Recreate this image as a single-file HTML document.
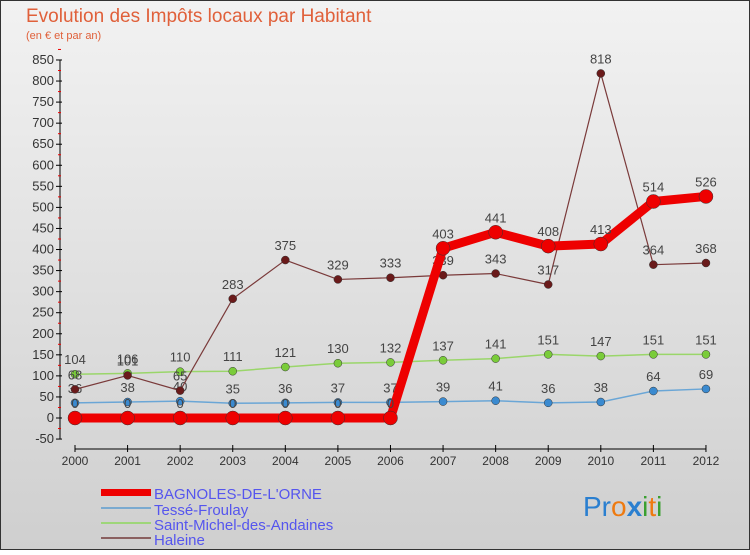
<!DOCTYPE html>
<html><head><meta charset="utf-8"><style>
body{margin:0;width:750px;height:550px;overflow:hidden;font-family:"Liberation Sans","DejaVu Sans",sans-serif}
</style></head><body>
<svg width="750" height="550" xmlns="http://www.w3.org/2000/svg">
<defs><linearGradient id="bg" x1="0" y1="0" x2="0" y2="1"><stop offset="0" stop-color="#f2f2f2"/><stop offset="1" stop-color="#cfcfcf"/></linearGradient></defs>
<rect x="0.5" y="0.5" width="749" height="549" fill="url(#bg)" stroke="#333"/>
<text x="26" y="22" font-size="19" fill="#e0603a">Evolution des Impôts locaux par Habitant</text>
<text x="26" y="39" font-size="11" fill="#e0603a">(en € et par an)</text>
<g id="axes"></g><g id="series"></g>
<g font-size="15" fill="#5555ee">
<rect x="101" y="489" width="50" height="7" fill="#e00"/>
<text x="154" y="499">BAGNOLES-DE-L'ORNE</text>
<rect x="101" y="507" width="50" height="2" fill="#7aaad0"/>
<text x="154" y="515">Tessé-Froulay</text>
<rect x="101" y="522" width="50" height="2" fill="#9ed67a"/>
<text x="154" y="530">Saint-Michel-des-Andaines</text>
<rect x="101" y="537" width="50" height="2" fill="#8a6060"/>
<text x="154" y="545">Haleine</text>
</g>
<text x="583" y="516" font-size="28"><tspan fill="#2a7fd0">Pr</tspan><tspan fill="#ee7a10">o</tspan><tspan fill="#2a7fd0" font-weight="bold">x</tspan><tspan fill="#3aa030">i</tspan><tspan fill="#ee7a10">t</tspan><tspan fill="#3aa030">i</tspan></text>
</svg>
<script>
const years=[2000,2001,2002,2003,2004,2005,2006,2007,2008,2009,2010,2011,2012];
const bagnoles=[0,0,0,0,0,0,0,403,441,408,413,514,526];
const tesse=[36,38,40,35,36,37,37,39,41,36,38,64,69];
const saintMichel=[104,106,110,111,121,130,132,137,141,151,147,151,151];
const haleine=[68,101,65,283,375,329,333,339,343,317,818,364,368];
const yTicks=[-50,0,50,100,150,200,250,300,350,400,450,500,550,600,650,700,750,800,850];
const NS="http://www.w3.org/2000/svg";
const X=i=>75+i*52.58, Y=v=>418-v*0.4212;
function mk(tag,attrs,parent){const e=document.createElementNS(NS,tag);for(const k in attrs)e.setAttribute(k,attrs[k]);parent.appendChild(e);return e;}
const ax=document.getElementById('axes'), sg=document.getElementById('series');
let a=mk('line',{x1:60,y1:Y(-50),x2:60,y2:Y(850),stroke:'#000'},ax);

yTicks.forEach(t=>{const y=Y(t);mk('line',{x1:56,y1:y,x2:62,y2:y,stroke:'#000'},ax);
 mk('line',{x1:58,y1:Y(t+25),x2:61,y2:Y(t+25),stroke:'#e00'},ax);
 const tx=mk('text',{x:54,y:y+4,'text-anchor':'end','font-size':13,fill:'#333'},ax);tx.textContent=t;
 });
a=mk('line',{x1:75,y1:449,x2:706,y2:449,stroke:'#000'},ax);

years.forEach((yr,i)=>{mk('line',{x1:X(i),y1:445,x2:X(i),y2:452,stroke:'#000'},ax);
 const tx=mk('text',{x:X(i),y:465,'text-anchor':'middle','font-size':12,fill:'#333'},ax);tx.textContent=yr;
 });
function series(vals,color,w,r,name,fill){
 const g=mk('g',{},sg);
 mk('polyline',{points:vals.map((v,i)=>X(i)+','+Y(v)).join(' '),fill:'none',stroke:color,'stroke-width':w,'stroke-linejoin':'round'},g);
 vals.forEach((v,i)=>{const c=mk('circle',{cx:X(i),cy:Y(v),r:r,fill:fill,stroke:'#333','stroke-width':0.5},g);
  
  const t=mk('text',{x:X(i),y:Y(v)-10,'text-anchor':'middle','font-size':13,fill:'#444'},g);t.textContent=v;
  });
}
series(tesse,'#6aa6d6',1.5,4,'series-tesse','#3a8ad0');
series(saintMichel,'#9ad66a',1.5,4,'series-saint-michel','#7acc3a');
series(haleine,'#7a3a3a',1.2,4,'series-haleine','#6a1a1a');
series(bagnoles,'#ee0000',9,7,'series-bagnoles','#ee0000');
</script>
</body></html>
